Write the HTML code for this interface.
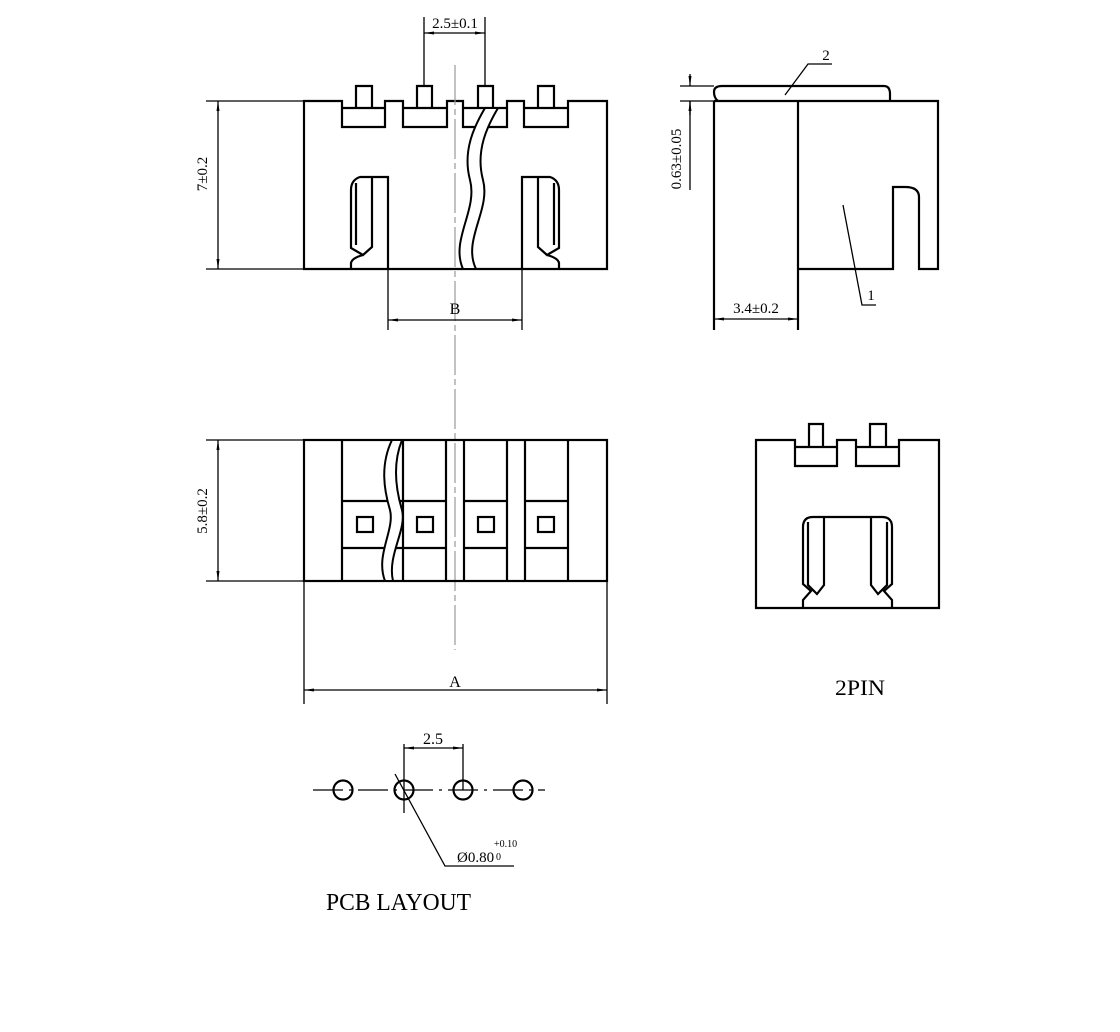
<!DOCTYPE html>
<html><head><meta charset="utf-8"><style>
html,body{margin:0;padding:0;background:#fff;}
svg{display:block;}
text{font-family:"Liberation Serif",serif;fill:#000;}
</style></head><body>
<svg width="1120" height="1032" viewBox="0 0 1120 1032" xmlns="http://www.w3.org/2000/svg">
<defs>
<marker id="ar" markerWidth="10" markerHeight="6" refX="10" refY="3" orient="auto-start-reverse" markerUnits="userSpaceOnUse"><path d="M0,1.5 L10,3 L0,4.5 z" fill="#000"/></marker>
</defs>
<g fill="none" stroke="#000" stroke-width="2.2">
<!-- TOP VIEW body -->
<path d="M304,101 H342 V127 H385 V101 H403 V127 H447 V101 H463 V127 H507 V101 H524 V127 H568 V101 H607 V269 H304 Z"/>
<path d="M342,108 H385 M403,108 H447 M463,108 H507 M524,108 H568"/>
<path d="M356,108 V86 H372 V108 M417,108 V86 H432 V108 M478,108 V86 H493 V108 M538,108 V86 H554 V108"/>
<!-- slots -->
<path d="M388,269 V177 H360 Q351,180 351,190 V248 L363,255 L372,247 V177"/>
<path d="M356,183 V245 M363,255 Q352,258 351,263 V269"/>
<path d="M522,269 V177 H550 Q559,180 559,190 V248 L547,255 L538,247 V177"/>
<path d="M554,183 V245 M547,255 Q558,258 559,263 V269"/>
</g>
<!-- break wave top -->
<path d="M463,269 C450,240 478,210 470,180 C462,150 475,125 485,108 L498,108 C488,125 475,150 483,180 C491,210 462,240 476,269 Z" fill="#fff" stroke="#000" stroke-width="2"/>
<!-- centerline -->
<line x1="455" y1="65" x2="455" y2="650" stroke="#999" stroke-width="1.2" stroke-dasharray="40,4,6,4"/>
<g stroke="#000" stroke-width="1.3" fill="none">
<!-- 7±0.2 -->
<path d="M206,101 H304 M206,269 H304"/>
<line x1="218" y1="101" x2="218" y2="269" marker-start="url(#ar)" marker-end="url(#ar)"/>
<!-- B -->
<path d="M388,269 V330 M522,269 V330"/>
<line x1="388" y1="320" x2="522" y2="320" marker-start="url(#ar)" marker-end="url(#ar)"/>
<!-- 2.5±0.1 -->
<path d="M424,86 V17 M485,86 V17"/>
<line x1="424" y1="33" x2="485" y2="33" marker-start="url(#ar)" marker-end="url(#ar)"/>
<!-- 5.8 -->
<path d="M206,440 H304 M206,581 H304"/>
<line x1="218" y1="440" x2="218" y2="581" marker-start="url(#ar)" marker-end="url(#ar)"/>
<!-- A -->
<path d="M304,581 V704 M607,581 V704"/>
<line x1="304" y1="690" x2="607" y2="690" marker-start="url(#ar)" marker-end="url(#ar)"/>
</g>
<text x="218" y="185" font-size="15" text-anchor="middle" transform="rotate(-90 207 185)">7±0.2</text>
<text x="455" y="314" font-size="16" text-anchor="middle">B</text>
<text x="455" y="28" font-size="15" text-anchor="middle">2.5±0.1</text>
<text x="207" y="511" font-size="15" text-anchor="middle" transform="rotate(-90 207 511)">5.8±0.2</text>
<text x="455" y="687" font-size="16" text-anchor="middle">A</text>
<!-- BOTTOM VIEW -->
<g fill="none" stroke="#000" stroke-width="2.2">
<rect x="304" y="440" width="303" height="141"/>
<path d="M342,440 V581 M403,440 V581 M446,440 V581 M464,440 V581 M507,440 V581 M525,440 V581 M568,440 V581"/>
<path d="M342,501 H446 M342,548 H446 M464,501 H507 M464,548 H507 M525,501 H568 M525,548 H568"/>
<rect x="357" y="517" width="16" height="15"/>
<rect x="417" y="517" width="16" height="15"/>
<rect x="478" y="517" width="16" height="15"/>
<rect x="538" y="517" width="16" height="15"/>
</g>
<path d="M385,581 C375,555 395,530 390,510 C384,490 380,465 392,440 L402,440 C392,465 396,490 402,510 C407,530 387,555 393,581 Z" fill="#fff" stroke="#000" stroke-width="2"/>
<!-- SIDE VIEW -->
<g fill="none" stroke="#000" stroke-width="2.2">
<path d="M714,101 V330 M798,101 V330"/>
<path d="M714,101 H938 V269 H919 V197 Q919,187 905,187 H893 V269 H798"/>
<path d="M718,101 Q714,98 714,92 Q714,86 722,86 H884 Q890,86 890,94 V101"/>
</g>
<g stroke="#000" stroke-width="1.3" fill="none">
<path d="M680,86 H714 M680,101 H714"/>
<line x1="690" y1="74" x2="690" y2="86" marker-end="url(#ar)"/>
<line x1="690" y1="115" x2="690" y2="101" marker-end="url(#ar)"/>
<line x1="690" y1="101" x2="690" y2="190"/>
<line x1="714" y1="319" x2="798" y2="319" marker-start="url(#ar)" marker-end="url(#ar)"/>
<path d="M785,95 L808,64 H832"/>
<path d="M843,205 L862,305 H876"/>
</g>
<text x="677" y="155" font-size="15" text-anchor="middle" transform="rotate(-90 681 155)">0.63±0.05</text>
<text x="756" y="313" font-size="15" text-anchor="middle">3.4±0.2</text>
<text x="826" y="60" font-size="15" text-anchor="middle">2</text>
<text x="871" y="300" font-size="15" text-anchor="middle">1</text>
<!-- 2PIN VIEW -->
<g fill="none" stroke="#000" stroke-width="2.2">
<path d="M756,440 H795 V466 H837 V440 H856 V466 H899 V440 H939 V608 H756 Z"/>
<path d="M795,447 H837 M856,447 H899"/>
<path d="M809,447 V424 H823 V447 M870,447 V424 H886 V447"/>
<path d="M803,608 V600 L811,591 L803,584 V527 Q803,517 813,517 H882 Q892,517 892,527 V584 L884,591 L892,600 V608"/>
<path d="M808,522 V585 L817,594 L824,585 V517 M887,522 V585 L878,594 L871,585 V517"/>
</g>
<text x="860" y="695" font-size="22" text-anchor="middle" textLength="50" lengthAdjust="spacingAndGlyphs">2PIN</text>
<!-- PCB LAYOUT -->
<line x1="313" y1="790" x2="545" y2="790" stroke="#000" stroke-width="1.3" stroke-dasharray="30,6,3,6"/>
<g fill="none" stroke="#000" stroke-width="2.2">
<circle cx="343" cy="790" r="9.5"/>
<circle cx="404" cy="790" r="9.5"/>
<circle cx="463" cy="790" r="9.5"/>
<circle cx="523" cy="790" r="9.5"/>
</g>
<g stroke="#000" stroke-width="1.3" fill="none">
<path d="M404,744 V813 M463,744 V790"/>
<line x1="404" y1="748" x2="463" y2="748" marker-start="url(#ar)" marker-end="url(#ar)"/>
<path d="M395,774 L445,866 H514"/>
</g>
<text x="433" y="744" font-size="16" text-anchor="middle">2.5</text>
<text x="457" y="862" font-size="15">Ø0.80</text>
<text x="494" y="847" font-size="10">+0.10</text>
<text x="496" y="860" font-size="10">0</text>
<text x="326" y="910" font-size="24" textLength="145" lengthAdjust="spacingAndGlyphs">PCB LAYOUT</text>
</svg>
</body></html>
